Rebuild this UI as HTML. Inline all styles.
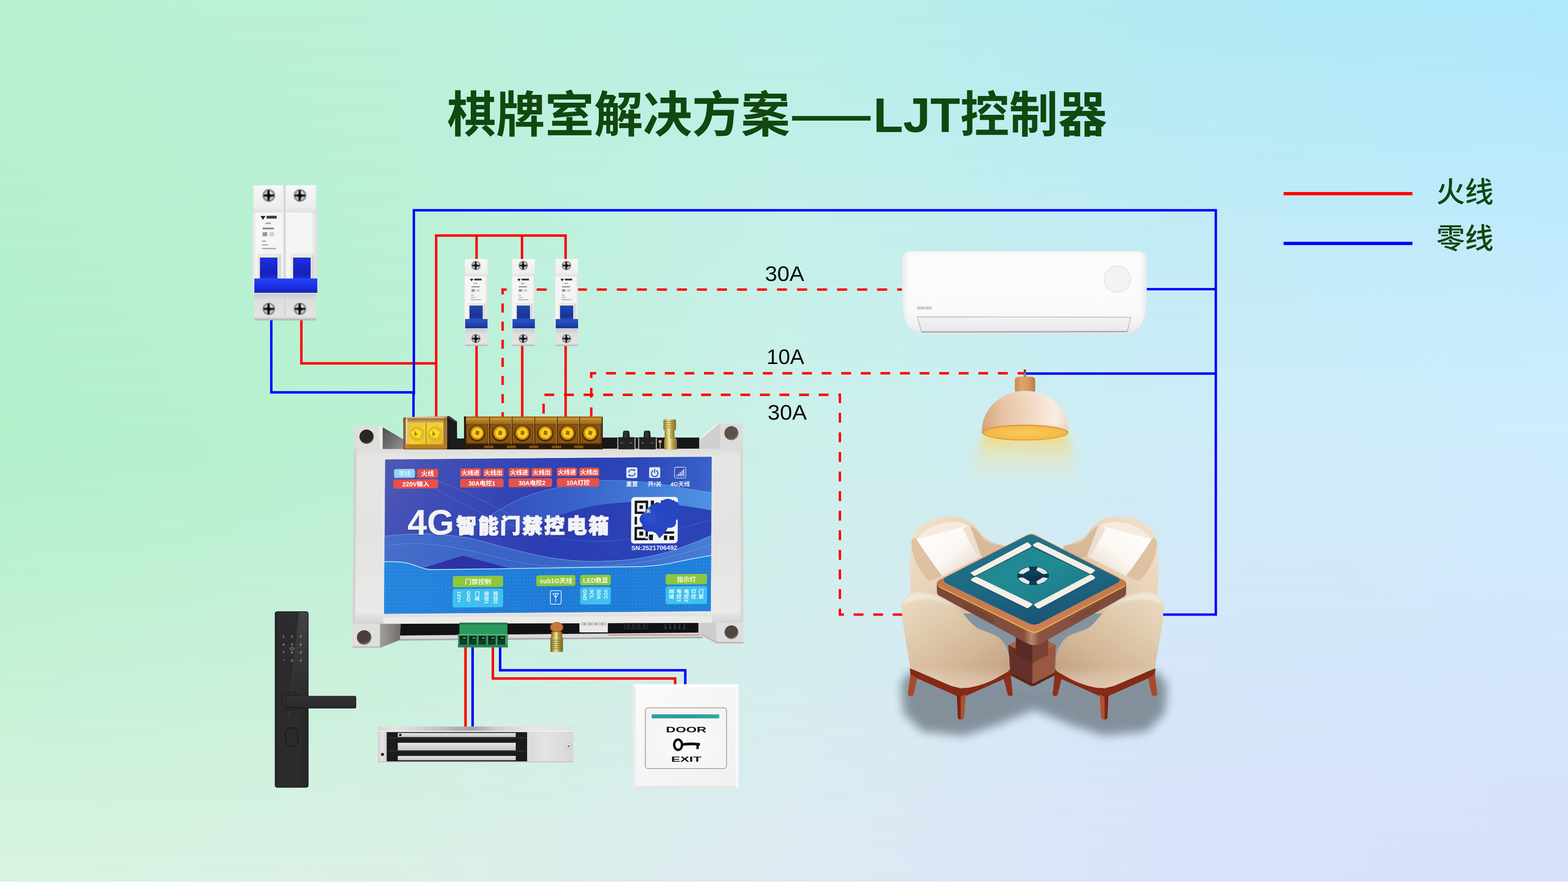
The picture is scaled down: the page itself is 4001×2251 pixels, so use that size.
<!DOCTYPE html>
<html><head><meta charset="utf-8"><title>LJT</title>
<style>
html,body{margin:0;padding:0;background:#fff}
body{width:4001px;height:2251px;overflow:hidden;position:relative;font-family:"Liberation Sans",sans-serif}

.bg{position:absolute;left:0;top:0;width:4001px;height:2251px}
.a{background:linear-gradient(to right,#b9f1d1 0%,#bcf1d9 25%,#bbf0e7 50%,#b1eaf4 75%,#aee8fb 100%)}
.b{background:linear-gradient(to right,#b1f0ca 0%,#baf0d3 25%,#cdf0ea 50%,#d0ecf7 75%,#d0edff 100%);-webkit-mask-image:linear-gradient(to bottom,transparent 0%,#000 50%);mask-image:linear-gradient(to bottom,transparent 0%,#000 50%)}
.c{background:linear-gradient(to right,#d8f3e1 0%,#dbf0e5 25%,#deeaf2 50%,#dae2fb 75%,#d7dffa 100%);-webkit-mask-image:linear-gradient(to bottom,transparent 50%,#000 100%);mask-image:linear-gradient(to bottom,transparent 50%,#000 100%)}

.wl{position:absolute;left:0;top:2250px;width:4001px;height:1px;background:#fff}
text.t{font-family:"Liberation Sans","Noto Sans CJK SC",sans-serif;font-weight:bold}
</style></head><body>

<div class="bg a"></div><div class="bg b"></div><div class="bg c"></div>

<svg width="4001" height="2251" viewBox="0 0 4001 2251" style="position:absolute;left:0;top:0"><defs><filter id="blur8" x="-20%" y="-20%" width="140%" height="140%"><feGaussianBlur stdDeviation="11"/></filter><filter id="blur3" x="-20%" y="-20%" width="140%" height="140%"><feGaussianBlur stdDeviation="3"/></filter><linearGradient id="g1" x1="0" y1="0" x2="0" y2="1"><stop offset="0" stop-color="#f7f7f7"/><stop offset="0.8" stop-color="#eeeeee"/><stop offset="1" stop-color="#e2e2e2"/></linearGradient><linearGradient id="g2" x1="0" y1="0" x2="1" y2="0"><stop offset="0" stop-color="#e3e3e3"/><stop offset="0.06" stop-color="#f6f6f6"/><stop offset="0.9" stop-color="#f4f4f4"/><stop offset="1" stop-color="#dcdcdc"/></linearGradient><linearGradient id="g3" x1="0" y1="0" x2="0" y2="1"><stop offset="0" stop-color="#c9c9c9"/><stop offset="0.25" stop-color="#dedede"/><stop offset="0.85" stop-color="#e4e4e4"/><stop offset="0.93" stop-color="#cfcfcf"/><stop offset="1" stop-color="#a9a9a9"/></linearGradient><linearGradient id="g4" x1="0" y1="0" x2="0" y2="1"><stop offset="0" stop-color="#2a44f2"/><stop offset="0.55" stop-color="#1c2fe6"/><stop offset="1" stop-color="#1322b8"/></linearGradient><linearGradient id="g5" x1="0" y1="0" x2="0" y2="1"><stop offset="0" stop-color="#1c2fe6"/><stop offset="0.75" stop-color="#1322b8"/><stop offset="1" stop-color="#1c2fe6"/></linearGradient><linearGradient id="g6" x1="0" y1="0" x2="0" y2="1"><stop offset="0" stop-color="#f7f7f7"/><stop offset="0.8" stop-color="#eeeeee"/><stop offset="1" stop-color="#e2e2e2"/></linearGradient><linearGradient id="g7" x1="0" y1="0" x2="1" y2="0"><stop offset="0" stop-color="#e3e3e3"/><stop offset="0.06" stop-color="#f6f6f6"/><stop offset="0.9" stop-color="#f4f4f4"/><stop offset="1" stop-color="#dcdcdc"/></linearGradient><linearGradient id="g8" x1="0" y1="0" x2="0" y2="1"><stop offset="0" stop-color="#c9c9c9"/><stop offset="0.25" stop-color="#dedede"/><stop offset="0.85" stop-color="#e4e4e4"/><stop offset="0.93" stop-color="#cfcfcf"/><stop offset="1" stop-color="#a9a9a9"/></linearGradient><linearGradient id="g9" x1="0" y1="0" x2="0" y2="1"><stop offset="0" stop-color="#2a55c5"/><stop offset="0.55" stop-color="#1f45b5"/><stop offset="1" stop-color="#173492"/></linearGradient><linearGradient id="g10" x1="0" y1="0" x2="0" y2="1"><stop offset="0" stop-color="#1f45b5"/><stop offset="0.75" stop-color="#173492"/><stop offset="1" stop-color="#1f45b5"/></linearGradient><linearGradient id="g11" x1="0" y1="0" x2="0" y2="1"><stop offset="0" stop-color="#f7f7f7"/><stop offset="0.8" stop-color="#eeeeee"/><stop offset="1" stop-color="#e2e2e2"/></linearGradient><linearGradient id="g12" x1="0" y1="0" x2="1" y2="0"><stop offset="0" stop-color="#e3e3e3"/><stop offset="0.06" stop-color="#f6f6f6"/><stop offset="0.9" stop-color="#f4f4f4"/><stop offset="1" stop-color="#dcdcdc"/></linearGradient><linearGradient id="g13" x1="0" y1="0" x2="0" y2="1"><stop offset="0" stop-color="#c9c9c9"/><stop offset="0.25" stop-color="#dedede"/><stop offset="0.85" stop-color="#e4e4e4"/><stop offset="0.93" stop-color="#cfcfcf"/><stop offset="1" stop-color="#a9a9a9"/></linearGradient><linearGradient id="g14" x1="0" y1="0" x2="0" y2="1"><stop offset="0" stop-color="#2a55c5"/><stop offset="0.55" stop-color="#1f45b5"/><stop offset="1" stop-color="#173492"/></linearGradient><linearGradient id="g15" x1="0" y1="0" x2="0" y2="1"><stop offset="0" stop-color="#1f45b5"/><stop offset="0.75" stop-color="#173492"/><stop offset="1" stop-color="#1f45b5"/></linearGradient><linearGradient id="g16" x1="0" y1="0" x2="0" y2="1"><stop offset="0" stop-color="#f7f7f7"/><stop offset="0.8" stop-color="#eeeeee"/><stop offset="1" stop-color="#e2e2e2"/></linearGradient><linearGradient id="g17" x1="0" y1="0" x2="1" y2="0"><stop offset="0" stop-color="#e3e3e3"/><stop offset="0.06" stop-color="#f6f6f6"/><stop offset="0.9" stop-color="#f4f4f4"/><stop offset="1" stop-color="#dcdcdc"/></linearGradient><linearGradient id="g18" x1="0" y1="0" x2="0" y2="1"><stop offset="0" stop-color="#c9c9c9"/><stop offset="0.25" stop-color="#dedede"/><stop offset="0.85" stop-color="#e4e4e4"/><stop offset="0.93" stop-color="#cfcfcf"/><stop offset="1" stop-color="#a9a9a9"/></linearGradient><linearGradient id="g19" x1="0" y1="0" x2="0" y2="1"><stop offset="0" stop-color="#2a55c5"/><stop offset="0.55" stop-color="#1f45b5"/><stop offset="1" stop-color="#173492"/></linearGradient><linearGradient id="g20" x1="0" y1="0" x2="0" y2="1"><stop offset="0" stop-color="#1f45b5"/><stop offset="0.75" stop-color="#173492"/><stop offset="1" stop-color="#1f45b5"/></linearGradient><linearGradient id="g21" x1="0" y1="0" x2="0" y2="1"><stop offset="0" stop-color="#f7f7f8"/><stop offset="0.08" stop-color="#fcfcfc"/><stop offset="0.7" stop-color="#fafafa"/><stop offset="0.9" stop-color="#f1f1f2"/><stop offset="1" stop-color="#e6e6e8"/></linearGradient><linearGradient id="g22" x1="0" y1="0" x2="1" y2="0"><stop offset="0" stop-color="#e4e6ea" stop-opacity="0.9"/><stop offset="0.035" stop-color="#f4f4f5" stop-opacity="0"/><stop offset="0.965" stop-color="#f4f4f5" stop-opacity="0"/><stop offset="1" stop-color="#e4e6ea" stop-opacity="0.9"/></linearGradient><linearGradient id="g23" x1="0" y1="0" x2="0" y2="1"><stop offset="0" stop-color="#f2f2f4"/><stop offset="0.8" stop-color="#ebebee"/><stop offset="1" stop-color="#dcdce0"/></linearGradient><linearGradient id="g24" x1="0" y1="0" x2="0" y2="1"><stop offset="0" stop-color="#ffcf52" stop-opacity="0.78"/><stop offset="0.3" stop-color="#ffd86e" stop-opacity="0.4"/><stop offset="0.8" stop-color="#ffe9a0" stop-opacity="0.06"/><stop offset="1" stop-color="#ffe9a0" stop-opacity="0"/></linearGradient><linearGradient id="g25" x1="0" y1="0" x2="1" y2="0"><stop offset="0" stop-color="#c98c54"/><stop offset="0.35" stop-color="#e0a56c"/><stop offset="0.7" stop-color="#d6965c"/><stop offset="1" stop-color="#b97c47"/></linearGradient><linearGradient id="g26" x1="0" y1="0" x2="1" y2="0"><stop offset="0" stop-color="#d5a680"/><stop offset="0.25" stop-color="#e8c4a4"/><stop offset="0.6" stop-color="#f3dcc8"/><stop offset="0.85" stop-color="#faefe6"/><stop offset="1" stop-color="#f0d9c6"/></linearGradient><linearGradient id="g27" x1="0" y1="0" x2="0" y2="1"><stop offset="0" stop-color="#fff" stop-opacity="0.15"/><stop offset="0.6" stop-color="#c98e64" stop-opacity="0.0"/><stop offset="1" stop-color="#b97a4e" stop-opacity="0.28"/></linearGradient><radialGradient id="g28" cx="0.5" cy="0.5" r="0.6"><stop offset="0" stop-color="#fbc95a"/><stop offset="0.7" stop-color="#f6bb47"/><stop offset="1" stop-color="#eaa83e"/></radialGradient><linearGradient id="g29" x1="0" y1="0" x2="1" y2="1"><stop offset="0" stop-color="#f2e3d0"/><stop offset="0.45" stop-color="#e9d3b9"/><stop offset="1" stop-color="#cfae8d"/></linearGradient><linearGradient id="g30" x1="0" y1="0" x2="1" y2="1"><stop offset="0" stop-color="#ffffff"/><stop offset="0.55" stop-color="#fbf7f2"/><stop offset="1" stop-color="#e2d3c2"/></linearGradient><linearGradient id="g31" x1="0" y1="0" x2="1" y2="0"><stop offset="0" stop-color="#7a4638"/><stop offset="0.46" stop-color="#84503f"/><stop offset="0.5" stop-color="#b98872"/><stop offset="0.54" stop-color="#8a5443"/><stop offset="1" stop-color="#7d493a"/></linearGradient><linearGradient id="g32" x1="0" y1="0" x2="0" y2="1"><stop offset="0" stop-color="#b8734d"/><stop offset="1" stop-color="#c98057"/></linearGradient><linearGradient id="g33" x1="0.3" y1="0" x2="0.6" y2="1"><stop offset="0" stop-color="#1f748a"/><stop offset="0.5" stop-color="#1d6a84"/><stop offset="1" stop-color="#1a5374"/></linearGradient><linearGradient id="g34" x1="0" y1="0" x2="1" y2="1"><stop offset="0" stop-color="#24868f"/><stop offset="0.5" stop-color="#1f8a93"/><stop offset="1" stop-color="#1f7389"/></linearGradient><linearGradient id="g35" x1="0" y1="0" x2="0" y2="1"><stop offset="0" stop-color="#0d4a60"/><stop offset="1" stop-color="#062c42"/></linearGradient><linearGradient id="g36" x1="0.1" y1="0" x2="0.9" y2="1"><stop offset="0" stop-color="#eadac3"/><stop offset="0.3" stop-color="#e0cbae"/><stop offset="0.65" stop-color="#d3b797"/><stop offset="1" stop-color="#bf9c7c"/></linearGradient><linearGradient id="g37" x1="0" y1="0" x2="0" y2="1"><stop offset="0" stop-color="#fff" stop-opacity="0.0"/><stop offset="0.78" stop-color="#fff" stop-opacity="0.0"/><stop offset="1" stop-color="#f3dfc8" stop-opacity="0.55"/></linearGradient><filter id="tblur" x="-10%" y="-20%" width="120%" height="140%"><feGaussianBlur stdDeviation="44"/></filter><filter id="tblur2" x="-20%" y="-30%" width="140%" height="160%"><feGaussianBlur stdDeviation="14"/></filter><linearGradient id="g38" x1="0" y1="0" x2="0" y2="1"><stop offset="0" stop-color="#dcdcda"/><stop offset="0.05" stop-color="#e6e6e4"/><stop offset="0.5" stop-color="#e3e3e1"/><stop offset="0.93" stop-color="#e9e9e7"/><stop offset="1" stop-color="#d2d2d0"/></linearGradient><linearGradient id="g39" x1="0" y1="0" x2="1" y2="1"><stop offset="0" stop-color="#4e4e50"/><stop offset="0.6" stop-color="#77777a"/><stop offset="1" stop-color="#9a9a9c"/></linearGradient><linearGradient id="g40" x1="0" y1="0" x2="1" y2="0"><stop offset="0" stop-color="#a29e9a"/><stop offset="0.5" stop-color="#8a8683"/><stop offset="1" stop-color="#6d6a68"/></linearGradient><radialGradient id="g41" cx="0.45" cy="0.4" r="0.6"><stop offset="0" stop-color="#2b2622"/><stop offset="0.75" stop-color="#2b2622"/><stop offset="1" stop-color="#55504a"/></radialGradient><radialGradient id="g42" cx="0.45" cy="0.4" r="0.6"><stop offset="0" stop-color="#5c5149"/><stop offset="0.75" stop-color="#5c5149"/><stop offset="1" stop-color="#8b8178"/></radialGradient><radialGradient id="g43" cx="0.45" cy="0.4" r="0.6"><stop offset="0" stop-color="#4a4039"/><stop offset="0.75" stop-color="#4a4039"/><stop offset="1" stop-color="#8c857d"/></radialGradient><radialGradient id="g44" cx="0.45" cy="0.4" r="0.6"><stop offset="0" stop-color="#50463f"/><stop offset="0.75" stop-color="#50463f"/><stop offset="1" stop-color="#8f8880"/></radialGradient><linearGradient id="g45" x1="0" y1="0" x2="0" y2="1"><stop offset="0" stop-color="#c9a56a"/><stop offset="0.1" stop-color="#a77a3c"/><stop offset="0.2" stop-color="#dcb65a"/><stop offset="0.8" stop-color="#d9aa3e"/><stop offset="0.9" stop-color="#b98632"/><stop offset="1" stop-color="#8a5a1c"/></linearGradient><linearGradient id="g46" x1="0" y1="0" x2="1" y2="1"><stop offset="0" stop-color="#e6c63c"/><stop offset="0.5" stop-color="#f4d32a"/><stop offset="1" stop-color="#e3b424"/></linearGradient><linearGradient id="g47" x1="0" y1="0" x2="0" y2="1"><stop offset="0" stop-color="#9a6418"/><stop offset="0.08" stop-color="#c08a2a"/><stop offset="0.2" stop-color="#a06c1c"/><stop offset="0.24" stop-color="#6a400c"/><stop offset="0.8" stop-color="#62390a"/><stop offset="0.86" stop-color="#352008"/><stop offset="1" stop-color="#46290a"/></linearGradient><radialGradient id="g48" cx="0.5" cy="0.5" r="0.5"><stop offset="0" stop-color="#d39612"/><stop offset="0.35" stop-color="#f8c81e"/><stop offset="0.72" stop-color="#e8aa14"/><stop offset="1" stop-color="#8a560c"/></radialGradient><linearGradient id="g49" x1="0" y1="0" x2="1" y2="0"><stop offset="0" stop-color="#1a1a1c"/><stop offset="0.4" stop-color="#3a3a3d"/><stop offset="1" stop-color="#161618"/></linearGradient><linearGradient id="g50" x1="0" y1="0" x2="1" y2="0"><stop offset="0" stop-color="#1a1a1c"/><stop offset="0.4" stop-color="#3a3a3d"/><stop offset="1" stop-color="#161618"/></linearGradient><linearGradient id="g51" x1="0" y1="0" x2="1" y2="0"><stop offset="0" stop-color="#8e7a36"/><stop offset="0.3" stop-color="#d9c878"/><stop offset="0.45" stop-color="#f1e6a6"/><stop offset="0.6" stop-color="#c2ad58"/><stop offset="1" stop-color="#85702e"/></linearGradient><linearGradient id="g52" x1="0" y1="0" x2="0" y2="1"><stop offset="0" stop-color="#2a8f56"/><stop offset="0.5" stop-color="#33a463"/><stop offset="1" stop-color="#2b9559"/></linearGradient><linearGradient id="g53" x1="0" y1="0" x2="1" y2="0"><stop offset="0" stop-color="#7d6526"/><stop offset="0.3" stop-color="#cdb766"/><stop offset="0.48" stop-color="#f3e8aa"/><stop offset="0.62" stop-color="#b9a24e"/><stop offset="1" stop-color="#7d6526"/></linearGradient><clipPath id="c54"><rect x="0" y="0" width="833.6" height="394.2"/></clipPath><linearGradient id="g55" x1="0" y1="0" x2="1" y2="0.25"><stop offset="0" stop-color="#5058b4"/><stop offset="0.25" stop-color="#3c4bb6"/><stop offset="0.6" stop-color="#2b3db2"/><stop offset="1" stop-color="#2a44b8"/></linearGradient><linearGradient id="g56" x1="0" y1="0" x2="1" y2="0"><stop offset="0" stop-color="#3d6fd2" stop-opacity="0"/><stop offset="0.55" stop-color="#3d6fd2" stop-opacity="0.12"/><stop offset="1" stop-color="#4a86de" stop-opacity="0.5"/></linearGradient><linearGradient id="g57" x1="0" y1="0" x2="1" y2="0"><stop offset="0" stop-color="#3f78d6" stop-opacity="0.0"/><stop offset="0.3" stop-color="#3f78d6" stop-opacity="0.45"/><stop offset="0.7" stop-color="#4687de" stop-opacity="0.8"/><stop offset="1" stop-color="#5198e6" stop-opacity="0.95"/></linearGradient><linearGradient id="g58" x1="0" y1="0" x2="1" y2="0"><stop offset="0" stop-color="#4672cc" stop-opacity="0.9"/><stop offset="0.35" stop-color="#3c69c9" stop-opacity="0.85"/><stop offset="0.7" stop-color="#3f72d0" stop-opacity="0.85"/><stop offset="1" stop-color="#4a84da" stop-opacity="0.9"/></linearGradient><linearGradient id="g59" x1="0" y1="0" x2="1" y2="0"><stop offset="0" stop-color="#2585de"/><stop offset="0.5" stop-color="#1e7ad5"/><stop offset="1" stop-color="#2080dc"/></linearGradient><pattern id="p60" width="9" height="9" patternUnits="userSpaceOnUse"><circle cx="4.5" cy="4.5" r="1.8" fill="#4ea4ee" opacity="0.35"/></pattern><filter id="tsh" x="-5%" y="-20%" width="110%" height="140%"><feDropShadow dx="-1.5" dy="1.5" stdDeviation="1.6" flood-color="#1a2a7a" flood-opacity="0.55"/></filter><linearGradient id="g61" x1="0" y1="0" x2="1" y2="0"><stop offset="0" stop-color="#232325"/><stop offset="0.08" stop-color="#2b2b2d"/><stop offset="0.7" stop-color="#2c2c2e"/><stop offset="1" stop-color="#252527"/></linearGradient><linearGradient id="g62" x1="0" y1="0" x2="0" y2="1"><stop offset="0" stop-color="#47474a" stop-opacity="0.9"/><stop offset="0.5" stop-color="#3a3a3d" stop-opacity="0.7"/><stop offset="1" stop-color="#2e2e30" stop-opacity="0.2"/></linearGradient><linearGradient id="g63" x1="0" y1="0" x2="0" y2="1"><stop offset="0" stop-color="#3b3b3d"/><stop offset="0.15" stop-color="#303032"/><stop offset="0.85" stop-color="#2c2c2e"/><stop offset="1" stop-color="#1f1f20"/></linearGradient><linearGradient id="g64" x1="0" y1="0" x2="1" y2="0"><stop offset="0" stop-color="#d4d4d4"/><stop offset="0.08" stop-color="#e6e6e6"/><stop offset="0.3" stop-color="#c4c4c4"/><stop offset="0.48" stop-color="#a3a3a3"/><stop offset="0.6" stop-color="#cdcdcd"/><stop offset="0.8" stop-color="#e9e9e9"/><stop offset="1" stop-color="#e2e2e2"/></linearGradient><linearGradient id="g65" x1="0" y1="0" x2="1" y2="0"><stop offset="0" stop-color="#cfcfcf"/><stop offset="0.5" stop-color="#e4e4e4"/><stop offset="1" stop-color="#d0d0d0"/></linearGradient><linearGradient id="g66" x1="0" y1="0" x2="0" y2="1"><stop offset="0" stop-color="#e9e9e9"/><stop offset="0.5" stop-color="#d5d5d5"/><stop offset="1" stop-color="#c4c4c4"/></linearGradient><linearGradient id="g67" x1="0" y1="0" x2="1" y2="0"><stop offset="0" stop-color="#dadada"/><stop offset="0.4" stop-color="#e3e3e3"/><stop offset="1" stop-color="#d7d7d7"/></linearGradient><linearGradient id="g68" x1="0" y1="0" x2="1" y2="1"><stop offset="0" stop-color="#fbfbfb"/><stop offset="0.5" stop-color="#f5f5f5"/><stop offset="1" stop-color="#f0f0f0"/></linearGradient><radialGradient id="g69" cx="0.5" cy="0.55" r="0.7"><stop offset="0" stop-color="#fbfbfb"/><stop offset="1" stop-color="#f2f2f2"/></radialGradient><linearGradient id="g70" x1="0" y1="0" x2="1" y2="0"><stop offset="0" stop-color="#2aa39d"/><stop offset="0.5" stop-color="#259a9c"/><stop offset="0.85" stop-color="#2aa6a0"/><stop offset="1" stop-color="#35b096"/></linearGradient></defs><text class="t" x="1140.8" y="337" font-size="125" fill="#12470f">棋牌室解决方案</text><rect x="2021.2" y="296" width="200.2" height="11.8" fill="#12470f"/><text class="t" x="2228.2" y="337.3" font-size="125" fill="#12470f" textLength="596.4" lengthAdjust="spacingAndGlyphs">LJT控制器</text><rect x="3275.3" y="490.1" width="328.8" height="8.3" fill="#fe0000"/><rect x="3275.3" y="617.1" width="328.8" height="8.3" fill="#0000fe"/><text class="t" x="3665" y="516.3" font-size="73" fill="#12470f" style="font-weight:500">火线</text><text class="t" x="3665" y="634" font-size="73" fill="#12470f" style="font-weight:500">零线</text><path d="M769.0 812.0 L769.0 927.4 L1116.1 927.4" fill="none" stroke="#fe0000" stroke-width="6.2" stroke-linecap="butt" stroke-linejoin="miter"/><path d="M1113.0 1068.0 L1113.0 601.2 L1443.2 601.2 L1443.2 668.0" fill="none" stroke="#fe0000" stroke-width="6.2" stroke-linecap="butt" stroke-linejoin="miter"/><path d="M1216.0 601.0 L1216.0 668.0" fill="none" stroke="#fe0000" stroke-width="6.2" stroke-linecap="butt" stroke-linejoin="miter"/><path d="M1332.0 601.0 L1332.0 668.0" fill="none" stroke="#fe0000" stroke-width="6.2" stroke-linecap="butt" stroke-linejoin="miter"/><path d="M1216.0 878.0 L1216.0 1068.0" fill="none" stroke="#fe0000" stroke-width="6.2" stroke-linecap="butt" stroke-linejoin="miter"/><path d="M1332.6 878.0 L1332.6 1068.0" fill="none" stroke="#fe0000" stroke-width="6.2" stroke-linecap="butt" stroke-linejoin="miter"/><path d="M1443.3 878.0 L1443.3 1068.0" fill="none" stroke="#fe0000" stroke-width="6.2" stroke-linecap="butt" stroke-linejoin="miter"/><path d="M692.3 812.0 L692.3 1001.3 L1056.0 1001.3" fill="none" stroke="#0000fe" stroke-width="6.2" stroke-linecap="butt" stroke-linejoin="miter"/><path d="M1055.1 1000.0 L1055.1 1070.0" fill="none" stroke="#0000fe" stroke-width="6.2" stroke-linecap="butt" stroke-linejoin="miter"/><path d="M1056.0 1007.6 L1056.0 536.7 L3102.3 536.7 L3102.3 1568.5 L2960.0 1568.5" fill="none" stroke="#0000fe" stroke-width="6.2" stroke-linecap="butt" stroke-linejoin="miter"/><path d="M2915.0 738.0 L3102.0 738.0" fill="none" stroke="#0000fe" stroke-width="6.2" stroke-linecap="butt" stroke-linejoin="miter"/><path d="M2617.5 953.3 L3102.0 953.3" fill="none" stroke="#0000fe" stroke-width="6.2" stroke-linecap="butt" stroke-linejoin="miter"/><path d="M1187.8 1640.0 L1187.8 1857.0" fill="none" stroke="#fe0000" stroke-width="6.4" stroke-linecap="butt" stroke-linejoin="miter"/><path d="M1205.9 1640.0 L1205.9 1857.0" fill="none" stroke="#0000fe" stroke-width="6.4" stroke-linecap="butt" stroke-linejoin="miter"/><path d="M1257.6 1640.0 L1257.6 1731.7 L1722.8 1731.7 L1722.8 1750.0" fill="none" stroke="#fe0000" stroke-width="6.3" stroke-linecap="butt" stroke-linejoin="miter"/><path d="M1276.2 1640.0 L1276.2 1710.7 L1748.6 1710.7 L1748.6 1750.0" fill="none" stroke="#0000fe" stroke-width="6.3" stroke-linecap="butt" stroke-linejoin="miter"/><path d="M1282.5 736.1 L1282.5 1070.0" fill="none" stroke="#fe0000" stroke-width="6.1" stroke-linecap="butt" stroke-linejoin="miter" stroke-dasharray="23.1 23.1" stroke-dashoffset="7.7"/><path d="M1279.3 739.0 L2306.0 739.0" fill="none" stroke="#fe0000" stroke-width="6.1" stroke-linecap="butt" stroke-linejoin="miter" stroke-dasharray="25.6 25.5" stroke-dashoffset="12"/><path d="M1508.7 1064.8 L1508.7 952.6 L2614.5 952.6" fill="none" stroke="#fe0000" stroke-width="6.1" stroke-linecap="butt" stroke-linejoin="miter" stroke-dasharray="25 25" stroke-dashoffset="0"/><path d="M1387.0 1030.3 L1387.0 1070.0" fill="none" stroke="#fe0000" stroke-width="6.1" stroke-linecap="butt" stroke-linejoin="miter" stroke-dasharray="25.3 25" stroke-dashoffset="0"/><path d="M1389.1 1007.6 L2143.1 1007.6 L2143.1 1568.5 L2303.0 1568.5" fill="none" stroke="#fe0000" stroke-width="6.1" stroke-linecap="butt" stroke-linejoin="miter" stroke-dasharray="25.1 24.9" stroke-dashoffset="0"/><rect x="648.9" y="749.6" width="157.1" height="67.9" fill="url(#g3)"/><rect x="647.0" y="473.0" width="159.0" height="67.5" fill="url(#g1)"/><rect x="644.3" y="539.5" width="165.3" height="210.1" fill="url(#g2)"/><rect x="644.3" y="539.5" width="165.3" height="2.1" fill="#dadada"/><rect x="656.9" y="647.0" width="60.6" height="63.7" fill="#eceadf"/><rect x="660.1" y="653.2" width="51.0" height="4.8" fill="#f3efc8"/><rect x="710.4" y="650.4" width="7.2" height="60.3" fill="#d9d9d9"/><rect x="663.3" y="657.3" width="44.7" height="54.4" fill="url(#g5)"/><circle cx="686.0" cy="498.9" r="17.8" fill="#d9d9d9"/><circle cx="686.0" cy="498.9" r="15.9" fill="#8f8f8f"/><circle cx="686.0" cy="498.9" r="12.4" fill="#b9b9b9"/><rect x="682.3" y="485.3" width="5.7" height="27.3" fill="#1e1e1e"/><rect x="672.3" y="496.1" width="27.3" height="5.7" fill="#2a2a2a"/><circle cx="686.0" cy="498.9" r="5.7" fill="#111"/><rect x="689.1" y="491.0" width="4.8" height="4.8" fill="#e6e6e6"/><circle cx="686.0" cy="788.3" r="17.8" fill="#d9d9d9"/><circle cx="686.0" cy="788.3" r="15.9" fill="#8f8f8f"/><circle cx="686.0" cy="788.3" r="12.4" fill="#b9b9b9"/><rect x="682.3" y="774.6" width="5.7" height="27.3" fill="#1e1e1e"/><rect x="672.3" y="785.5" width="27.3" height="5.7" fill="#2a2a2a"/><circle cx="686.0" cy="788.3" r="5.7" fill="#111"/><rect x="689.1" y="780.4" width="4.8" height="4.8" fill="#e6e6e6"/><rect x="721.7" y="473.0" width="8.0" height="276.6" fill="#e4e4e4"/><rect x="725.5" y="473.0" width="2.4" height="344.5" fill="#cfcfcf"/><rect x="741.6" y="647.0" width="60.6" height="63.7" fill="#eceadf"/><rect x="744.8" y="653.2" width="51.0" height="4.8" fill="#f3efc8"/><rect x="795.0" y="650.4" width="7.2" height="60.3" fill="#d9d9d9"/><rect x="748.0" y="657.3" width="44.7" height="54.4" fill="url(#g5)"/><circle cx="765.5" cy="498.9" r="17.8" fill="#d9d9d9"/><circle cx="765.5" cy="498.9" r="15.9" fill="#8f8f8f"/><circle cx="765.5" cy="498.9" r="12.4" fill="#b9b9b9"/><rect x="761.8" y="485.3" width="5.7" height="27.3" fill="#1e1e1e"/><rect x="751.8" y="496.1" width="27.3" height="5.7" fill="#2a2a2a"/><circle cx="765.5" cy="498.9" r="5.7" fill="#111"/><rect x="768.6" y="491.0" width="4.8" height="4.8" fill="#e6e6e6"/><circle cx="765.5" cy="788.3" r="17.8" fill="#d9d9d9"/><circle cx="765.5" cy="788.3" r="15.9" fill="#8f8f8f"/><circle cx="765.5" cy="788.3" r="12.4" fill="#b9b9b9"/><rect x="761.8" y="774.6" width="5.7" height="27.3" fill="#1e1e1e"/><rect x="751.8" y="785.5" width="27.3" height="5.7" fill="#2a2a2a"/><circle cx="765.5" cy="788.3" r="5.7" fill="#111"/><rect x="768.6" y="780.4" width="4.8" height="4.8" fill="#e6e6e6"/><rect x="648.9" y="710.7" width="160.7" height="36.9" fill="url(#g4)"/><rect x="644.3" y="747.6" width="165.3" height="2.1" fill="#e9e9e9"/><path d="M664.5 551.3 l12.9 0 l-6.5 10.0 z" fill="#222"/><rect x="680.2" y="550.7" width="25.8" height="7.1" fill="#3a3a3a"/><rect x="677.4" y="567.8" width="13.8" height="4.1" fill="#aaa"/><rect x="670.0" y="580.7" width="28.6" height="4.7" fill="#8c8c8c"/><rect x="670.0" y="592.5" width="12.0" height="10.6" fill="#999"/><rect x="687.5" y="592.5" width="12.0" height="10.6" fill="#cfcfcf"/><rect x="668.2" y="613.7" width="11.1" height="3.5" fill="#b5b5b5"/><rect x="668.2" y="623.1" width="15.7" height="3.5" fill="#b0b0b0"/><rect x="668.2" y="632.6" width="36.0" height="3.5" fill="#ababab"/><rect x="1186.9" y="839.3" width="56.8" height="43.7" fill="url(#g8)"/><rect x="1186.2" y="661.0" width="57.5" height="43.8" fill="url(#g6)"/><rect x="1184.2" y="703.8" width="59.8" height="135.4" fill="url(#g7)"/><rect x="1184.2" y="703.8" width="59.8" height="1.3" fill="#dadada"/><rect x="1193.4" y="773.1" width="45.1" height="41.1" fill="#eceadf"/><rect x="1195.7" y="777.1" width="38.2" height="3.1" fill="#f3efc8"/><rect x="1233.3" y="775.3" width="5.2" height="38.8" fill="#d9d9d9"/><rect x="1198.0" y="779.8" width="33.6" height="35.4" fill="url(#g10)"/><circle cx="1214.4" cy="677.7" r="12.9" fill="#d9d9d9"/><circle cx="1214.4" cy="677.7" r="11.5" fill="#8f8f8f"/><circle cx="1214.4" cy="677.7" r="9.0" fill="#b9b9b9"/><rect x="1211.7" y="667.8" width="4.1" height="19.8" fill="#1e1e1e"/><rect x="1204.5" y="675.6" width="19.8" height="4.1" fill="#2a2a2a"/><circle cx="1214.4" cy="677.7" r="4.1" fill="#111"/><rect x="1216.7" y="672.0" width="3.4" height="3.4" fill="#e6e6e6"/><circle cx="1214.4" cy="864.2" r="12.9" fill="#d9d9d9"/><circle cx="1214.4" cy="864.2" r="11.5" fill="#8f8f8f"/><circle cx="1214.4" cy="864.2" r="9.0" fill="#b9b9b9"/><rect x="1211.7" y="854.3" width="4.1" height="19.8" fill="#1e1e1e"/><rect x="1204.5" y="862.1" width="19.8" height="4.1" fill="#2a2a2a"/><circle cx="1214.4" cy="864.2" r="4.1" fill="#111"/><rect x="1216.7" y="858.4" width="3.4" height="3.4" fill="#e6e6e6"/><rect x="1186.9" y="814.2" width="57.1" height="23.8" fill="url(#g9)"/><rect x="1184.2" y="837.9" width="59.8" height="1.3" fill="#e9e9e9"/><path d="M1198.9 711.4 l9.3 0 l-4.7 6.5 z" fill="#222"/><rect x="1210.2" y="711.1" width="18.7" height="4.6" fill="#3a3a3a"/><rect x="1208.2" y="722.1" width="10.0" height="2.7" fill="#aaa"/><rect x="1202.9" y="730.4" width="20.7" height="3.0" fill="#8c8c8c"/><rect x="1202.9" y="738.0" width="8.7" height="6.8" fill="#999"/><rect x="1215.5" y="738.0" width="8.7" height="6.8" fill="#cfcfcf"/><rect x="1201.5" y="751.7" width="8.0" height="2.3" fill="#b5b5b5"/><rect x="1201.5" y="757.8" width="11.3" height="2.3" fill="#b0b0b0"/><rect x="1201.5" y="763.8" width="26.0" height="2.3" fill="#ababab"/><rect x="1307.7" y="839.3" width="56.8" height="43.7" fill="url(#g13)"/><rect x="1307.0" y="661.0" width="57.5" height="43.8" fill="url(#g11)"/><rect x="1305.0" y="703.8" width="59.8" height="135.4" fill="url(#g12)"/><rect x="1305.0" y="703.8" width="59.8" height="1.3" fill="#dadada"/><rect x="1314.2" y="773.1" width="45.1" height="41.1" fill="#eceadf"/><rect x="1316.5" y="777.1" width="38.2" height="3.1" fill="#f3efc8"/><rect x="1354.1" y="775.3" width="5.2" height="38.8" fill="#d9d9d9"/><rect x="1318.8" y="779.8" width="33.6" height="35.4" fill="url(#g15)"/><circle cx="1335.2" cy="677.7" r="12.9" fill="#d9d9d9"/><circle cx="1335.2" cy="677.7" r="11.5" fill="#8f8f8f"/><circle cx="1335.2" cy="677.7" r="9.0" fill="#b9b9b9"/><rect x="1332.5" y="667.8" width="4.1" height="19.8" fill="#1e1e1e"/><rect x="1325.3" y="675.6" width="19.8" height="4.1" fill="#2a2a2a"/><circle cx="1335.2" cy="677.7" r="4.1" fill="#111"/><rect x="1337.5" y="672.0" width="3.4" height="3.4" fill="#e6e6e6"/><circle cx="1335.2" cy="864.2" r="12.9" fill="#d9d9d9"/><circle cx="1335.2" cy="864.2" r="11.5" fill="#8f8f8f"/><circle cx="1335.2" cy="864.2" r="9.0" fill="#b9b9b9"/><rect x="1332.5" y="854.3" width="4.1" height="19.8" fill="#1e1e1e"/><rect x="1325.3" y="862.1" width="19.8" height="4.1" fill="#2a2a2a"/><circle cx="1335.2" cy="864.2" r="4.1" fill="#111"/><rect x="1337.5" y="858.4" width="3.4" height="3.4" fill="#e6e6e6"/><rect x="1307.7" y="814.2" width="57.1" height="23.8" fill="url(#g14)"/><rect x="1305.0" y="837.9" width="59.8" height="1.3" fill="#e9e9e9"/><path d="M1319.7 711.4 l9.3 0 l-4.7 6.5 z" fill="#222"/><rect x="1331.0" y="711.1" width="18.7" height="4.6" fill="#3a3a3a"/><rect x="1329.0" y="722.1" width="10.0" height="2.7" fill="#aaa"/><rect x="1323.7" y="730.4" width="20.7" height="3.0" fill="#8c8c8c"/><rect x="1323.7" y="738.0" width="8.7" height="6.8" fill="#999"/><rect x="1336.3" y="738.0" width="8.7" height="6.8" fill="#cfcfcf"/><rect x="1322.3" y="751.7" width="8.0" height="2.3" fill="#b5b5b5"/><rect x="1322.3" y="757.8" width="11.3" height="2.3" fill="#b0b0b0"/><rect x="1322.3" y="763.8" width="26.0" height="2.3" fill="#ababab"/><rect x="1418.0" y="839.3" width="56.8" height="43.7" fill="url(#g18)"/><rect x="1417.3" y="661.0" width="57.5" height="43.8" fill="url(#g16)"/><rect x="1415.3" y="703.8" width="59.8" height="135.4" fill="url(#g17)"/><rect x="1415.3" y="703.8" width="59.8" height="1.3" fill="#dadada"/><rect x="1424.5" y="773.1" width="45.1" height="41.1" fill="#eceadf"/><rect x="1426.8" y="777.1" width="38.2" height="3.1" fill="#f3efc8"/><rect x="1464.4" y="775.3" width="5.2" height="38.8" fill="#d9d9d9"/><rect x="1429.1" y="779.8" width="33.6" height="35.4" fill="url(#g20)"/><circle cx="1445.5" cy="677.7" r="12.9" fill="#d9d9d9"/><circle cx="1445.5" cy="677.7" r="11.5" fill="#8f8f8f"/><circle cx="1445.5" cy="677.7" r="9.0" fill="#b9b9b9"/><rect x="1442.8" y="667.8" width="4.1" height="19.8" fill="#1e1e1e"/><rect x="1435.6" y="675.6" width="19.8" height="4.1" fill="#2a2a2a"/><circle cx="1445.5" cy="677.7" r="4.1" fill="#111"/><rect x="1447.8" y="672.0" width="3.4" height="3.4" fill="#e6e6e6"/><circle cx="1445.5" cy="864.2" r="12.9" fill="#d9d9d9"/><circle cx="1445.5" cy="864.2" r="11.5" fill="#8f8f8f"/><circle cx="1445.5" cy="864.2" r="9.0" fill="#b9b9b9"/><rect x="1442.8" y="854.3" width="4.1" height="19.8" fill="#1e1e1e"/><rect x="1435.6" y="862.1" width="19.8" height="4.1" fill="#2a2a2a"/><circle cx="1445.5" cy="864.2" r="4.1" fill="#111"/><rect x="1447.8" y="858.4" width="3.4" height="3.4" fill="#e6e6e6"/><rect x="1418.0" y="814.2" width="57.1" height="23.8" fill="url(#g19)"/><rect x="1415.3" y="837.9" width="59.8" height="1.3" fill="#e9e9e9"/><path d="M1430.0 711.4 l9.3 0 l-4.7 6.5 z" fill="#222"/><rect x="1441.3" y="711.1" width="18.7" height="4.6" fill="#3a3a3a"/><rect x="1439.3" y="722.1" width="10.0" height="2.7" fill="#aaa"/><rect x="1434.0" y="730.4" width="20.7" height="3.0" fill="#8c8c8c"/><rect x="1434.0" y="738.0" width="8.7" height="6.8" fill="#999"/><rect x="1446.6" y="738.0" width="8.7" height="6.8" fill="#cfcfcf"/><rect x="1432.6" y="751.7" width="8.0" height="2.3" fill="#b5b5b5"/><rect x="1432.6" y="757.8" width="11.3" height="2.3" fill="#b0b0b0"/><rect x="1432.6" y="763.8" width="26.0" height="2.3" fill="#ababab"/><path d="M2324.0 641.5 H2903.6 Q2925.6 641.5 2925.6 663.5 V768.4 Q2923.6 847.6 2873.6 851.6 H2354.0 Q2304.0 847.6 2302.0 768.4 V663.5 Q2302.0 641.5 2324.0 641.5 Z" fill="url(#g21)" stroke="#e3e5e8" stroke-width="1.2"/><path d="M2324.0 641.5 H2903.6 Q2925.6 641.5 2925.6 663.5 V768.4 Q2923.6 847.6 2873.6 851.6 H2354.0 Q2304.0 847.6 2302.0 768.4 V663.5 Q2302.0 641.5 2324.0 641.5 Z" fill="url(#g22)"/><circle cx="2851" cy="712.5" r="34" fill="#f3f3f4" stroke="#dcdcde" stroke-width="1.4"/><circle cx="2851" cy="712.5" r="30.5" fill="none" stroke="#ececee" stroke-width="1"/><path d="M2341 808.6 L2885.4 809.6 L2876.7 846.3 L2351.5 847.4 Z" fill="url(#g23)" stroke="#9c9ea2" stroke-width="1.3"/><path d="M2351.5 847.6 L2876.7 846.5" stroke="#8a8c90" stroke-width="2" fill="none"/><text x="2339.5" y="789.6" style="font-family:'Liberation Sans',sans-serif;font-size:11.5px" fill="#8d8f93" textLength="38.5" lengthAdjust="spacingAndGlyphs">WAHIN</text><path d="M2512 1106 L2722 1106 L2765 1250 L2465 1250 Z" fill="url(#g24)" filter="url(#blur8)"/><rect x="2612.5" y="943.0" width="5.3" height="19.0" fill="#7a3b1c"/><rect x="2613.5" y="952.0" width="3.3" height="9.0" fill="#9aa0a6"/><path d="M2589.5 970 Q2589.5 962 2600 961.5 L2631 961.5 Q2641.5 962 2641.5 970 L2641.5 999 L2589.5 999 Z" fill="url(#g25)"/><path d="M2505.5 1105 C2503 1040 2560 997.5 2615 997.5 C2672 997.5 2729 1040 2726.5 1102 C2700 1130 2530 1132 2505.5 1105 Z" fill="url(#g26)"/><path d="M2505.5 1105 C2503 1040 2560 997.5 2615 997.5 C2672 997.5 2729 1040 2726.5 1102 C2700 1130 2530 1132 2505.5 1105 Z" fill="url(#g27)"/><ellipse cx="2616" cy="1104" rx="110" ry="20" fill="#d38f3e"/><ellipse cx="2616" cy="1104.5" rx="107.5" ry="18.2" fill="url(#g28)"/><g transform="translate(2280 1290) scale(0.27602)"><path d="M70 1640 L150 1540 L1100 1580 L1300 1640 L1480 1580 L2440 1540 L2530 1660 L2510 1920 L2340 2090 L1950 2130 L1640 2030 L1300 1890 L960 2030 L650 2130 L270 2090 L90 1920 Z" fill="#7d8a96" opacity="0.93" filter="url(#tblur)"/><path d="M560 900 L1300 1200 L2010 900 L2010 1560 L1300 1760 L560 1560 Z" fill="#8493a0"/><path d="M160 860 C148 620 148 450 165 330 C180 225 300 112 500 98 C640 92 745 160 792 240 C835 305 900 342 1030 372 L1030 1000 L160 1000 Z" fill="url(#g29)"/><path d="M165 335 C175 300 190 290 214 310 L450 650 L330 700 C230 600 170 480 165 335 Z" fill="#d9bb99" opacity="0.8"/><path d="M690 185 C740 190 800 260 840 320 C880 350 940 362 1030 380 L1030 520 L812 470 Z" fill="#d2b391" opacity="0.75"/><path d="M214 310 L690 185 C600 120 330 150 214 310 Z" fill="#f8ecdf" opacity="0.9"/><path d="M212 312 L686 187 C700 183 707 190 713 205 L812 470 L450 652 C380 560 280 420 212 312 Z" fill="url(#g30)"/><path d="M640 215 C700 330 745 420 790 480 L812 470 L713 205 C707 190 700 183 686 187 Z" fill="#eadbc9" opacity="0.8"/><g transform="translate(2600 0) scale(-1 1)"><path d="M160 860 C148 620 148 450 165 330 C180 225 300 112 500 98 C640 92 745 160 792 240 C835 305 900 342 1030 372 L1030 1000 L160 1000 Z" fill="url(#g29)"/><path d="M165 335 C175 300 190 290 214 310 L450 650 L330 700 C230 600 170 480 165 335 Z" fill="#d9bb99" opacity="0.8"/><path d="M690 185 C740 190 800 260 840 320 C880 350 940 362 1030 380 L1030 520 L812 470 Z" fill="#d2b391" opacity="0.75"/><path d="M214 310 L690 185 C600 120 330 150 214 310 Z" fill="#f8ecdf" opacity="0.9"/><path d="M212 312 L686 187 C700 183 707 190 713 205 L812 470 L450 652 C380 560 280 420 212 312 Z" fill="url(#g30)"/><path d="M640 215 C700 330 745 420 790 480 L812 470 L713 205 C707 190 700 183 686 187 Z" fill="#eadbc9" opacity="0.8"/></g><path d="M1060 1290 L1285 1400 L1285 1655 L1080 1550 Z" fill="#65302a"/><path d="M1500 1290 L1285 1400 L1285 1655 L1490 1550 Z" fill="#9a5840"/><path d="M1080 1545 L1285 1650 L1490 1545 L1490 1570 L1310 1665 Q1285 1678 1260 1665 L1080 1570 Z" fill="#5e241a"/><path d="M1060 1290 L1285 1180 L1500 1290 L1285 1400 Z" fill="#a86248"/><path d="M1130 1200 L1285 1280 L1285 1460 L1130 1380 Z" fill="#5a2a24"/><path d="M1430 1200 L1285 1280 L1285 1460 L1430 1380 Z" fill="#7b4234"/><path d="M400 722 L402 806 Q404 826 424 836 L1240 1278 Q1300 1306 1360 1278 L2128 846 Q2148 834 2150 810 L2150 715 L1300 1185 Z" fill="url(#g31)"/><path d="M650 890 L930 1040 L930 1100 L650 950 Z" fill="#6f3f32" opacity="0.55"/><path d="M1640 1040 L1910 890 L1910 950 L1640 1100 Z" fill="#744335" opacity="0.45"/><path d="M400 722 Q400 700 430 685 L1230 275 Q1272 253 1316 275 L2112 682 Q2150 700 2150 720 Q2150 740 2120 757 L1352 1167 Q1300 1194 1250 1167 L430 757 Q400 742 400 722 Z" fill="url(#g32)"/><path d="M415 742 Q420 752 440 762 L1252 1160 Q1300 1184 1350 1160 L2115 758 Q2135 748 2140 738" fill="none" stroke="#f4b436" stroke-width="9"/><path d="M465 690 Q465 672 490 660 L1225 285 Q1272 262 1318 285 L2060 662 Q2092 678 2090 692 Q2090 706 2062 720 L1350 1090 Q1300 1116 1250 1090 L492 722 Q465 708 465 690 Z" fill="url(#g33)"/><path d="M758 650 L1280 392 L1832 640 L1290 928 Z" fill="url(#g34)"/><path d="M712 622 L1228 345 Q1240 340 1250 348 L1272 370 Q1276 380 1262 388 L760 648 Q745 654 735 645 Z" fill="#0f4258" opacity="0.55" transform="translate(0 10)"/><path d="M1293 360 L1325 342 Q1337 338 1350 345 L1855 592 Q1866 600 1858 608 L1830 630 Q1820 634 1808 628 L1298 378 Q1288 370 1293 360 Z" fill="#0f4258" opacity="0.55" transform="translate(0 10)"/><path d="M720 680 L752 662 Q764 658 776 664 L1275 905 Q1285 912 1278 922 L1250 945 Q1240 952 1228 946 L724 698 Q714 690 720 680 Z" fill="#0f4258" opacity="0.55" transform="translate(0 10)"/><path d="M1305 912 L1815 642 Q1827 637 1838 645 L1860 662 Q1866 672 1855 680 L1350 950 Q1338 955 1328 948 L1308 930 Q1300 920 1305 912 Z" fill="#0f4258" opacity="0.55" transform="translate(0 10)"/><path d="M712 622 L1228 345 Q1240 340 1250 348 L1272 370 Q1276 380 1262 388 L760 648 Q745 654 735 645 Z" fill="#f4efe6"/><path d="M712 622 L1228 345 Q1240 340 1250 348 L1272 370 Q1276 380 1262 388 L760 648 Q745 654 735 645 Z" fill="none" stroke="#d9d0c2" stroke-width="3"/><path d="M1293 360 L1325 342 Q1337 338 1350 345 L1855 592 Q1866 600 1858 608 L1830 630 Q1820 634 1808 628 L1298 378 Q1288 370 1293 360 Z" fill="#f4efe6"/><path d="M1293 360 L1325 342 Q1337 338 1350 345 L1855 592 Q1866 600 1858 608 L1830 630 Q1820 634 1808 628 L1298 378 Q1288 370 1293 360 Z" fill="none" stroke="#d9d0c2" stroke-width="3"/><path d="M720 680 L752 662 Q764 658 776 664 L1275 905 Q1285 912 1278 922 L1250 945 Q1240 952 1228 946 L724 698 Q714 690 720 680 Z" fill="#f4efe6"/><path d="M720 680 L752 662 Q764 658 776 664 L1275 905 Q1285 912 1278 922 L1250 945 Q1240 952 1228 946 L724 698 Q714 690 720 680 Z" fill="none" stroke="#d9d0c2" stroke-width="3"/><path d="M1305 912 L1815 642 Q1827 637 1838 645 L1860 662 Q1866 672 1855 680 L1350 950 Q1338 955 1328 948 L1308 930 Q1300 920 1305 912 Z" fill="#f4efe6"/><path d="M1305 912 L1815 642 Q1827 637 1838 645 L1860 662 Q1866 672 1855 680 L1350 950 Q1338 955 1328 948 L1308 930 Q1300 920 1305 912 Z" fill="none" stroke="#d9d0c2" stroke-width="3"/><ellipse cx="1290" cy="650" rx="146" ry="87" fill="#0e4358"/><ellipse cx="1290" cy="650" rx="141" ry="83" fill="#e3e4e6"/><path d="M1180 650 Q1182 642 1196 634 L1270 592 Q1290 582 1310 592 L1386 636 Q1402 649 1386 662 L1310 708 Q1290 719 1270 708 L1196 666 Q1182 658 1180 650 Z" fill="url(#g35)"/><path d="M1248 566 L1332 566 L1318 604 L1262 604 Z M1248 734 L1332 734 L1318 696 L1262 696 Z M1147 628 L1147 672 L1205 664 L1205 636 Z M1433 628 L1433 672 L1375 664 L1375 636 Z" fill="#0b3c52"/><path d="M150 1505 L620 1695 L1078 1515 L1088 1575 L668 1762 L622 1772 L585 1762 L158 1572 Z" fill="#862a16"/><path d="M156 1560 L218 1598 L186 1752 Q160 1775 133 1752 Z" fill="#a9492b"/><path d="M585 1745 L622 1770 L622 1978 Q605 1985 594 1962 Z" fill="#7a2412"/><path d="M622 1770 L668 1745 L652 1962 Q640 1985 622 1978 Z" fill="#b0502f"/><path d="M1018 1602 L1082 1560 L1102 1750 Q1080 1775 1056 1752 Z" fill="#8c3019"/><path d="M76 926 C80 860 130 805 220 800 C330 795 440 835 590 945 C650 1000 700 1080 760 1125 C800 1155 900 1175 960 1211 C1020 1250 1060 1330 1070 1400 L1075 1500 Q1075 1526 1052 1540 L950 1598 C880 1636 800 1662 741 1676 Q646 1702 532 1667 L285 1562 L172 1512 Q155 1503 152 1480 L114 1258 L81 1050 Z" fill="url(#g36)"/><path d="M76 926 C80 860 130 805 220 800 C330 795 440 835 590 945 C650 1000 700 1080 760 1125 C800 1155 900 1175 960 1211 C1020 1250 1060 1330 1070 1400 L1075 1500 Q1075 1526 1052 1540 L950 1598 C880 1636 800 1662 741 1676 Q646 1702 532 1667 L285 1562 L172 1512 Q155 1503 152 1480 L114 1258 L81 1050 Z" fill="url(#g37)"/><path d="M86 930 C90 865 140 815 225 810 C330 806 440 845 585 950 C480 890 370 860 250 868 C160 876 110 900 86 930 Z" fill="#f6ecdf" opacity="0.75" filter="url(#tblur2)"/><g transform="translate(2572 0) scale(-1 1)"><path d="M150 1505 L620 1695 L1078 1515 L1088 1575 L668 1762 L622 1772 L585 1762 L158 1572 Z" fill="#862a16"/><path d="M156 1560 L218 1598 L186 1752 Q160 1775 133 1752 Z" fill="#a9492b"/><path d="M585 1745 L622 1770 L622 1978 Q605 1985 594 1962 Z" fill="#7a2412"/><path d="M622 1770 L668 1745 L652 1962 Q640 1985 622 1978 Z" fill="#b0502f"/><path d="M1018 1602 L1082 1560 L1102 1750 Q1080 1775 1056 1752 Z" fill="#8c3019"/><path d="M76 926 C80 860 130 805 220 800 C330 795 440 835 590 945 C650 1000 700 1080 760 1125 C800 1155 900 1175 960 1211 C1020 1250 1060 1330 1070 1400 L1075 1500 Q1075 1526 1052 1540 L950 1598 C880 1636 800 1662 741 1676 Q646 1702 532 1667 L285 1562 L172 1512 Q155 1503 152 1480 L114 1258 L81 1050 Z" fill="url(#g36)"/><path d="M76 926 C80 860 130 805 220 800 C330 795 440 835 590 945 C650 1000 700 1080 760 1125 C800 1155 900 1175 960 1211 C1020 1250 1060 1330 1070 1400 L1075 1500 Q1075 1526 1052 1540 L950 1598 C880 1636 800 1662 741 1676 Q646 1702 532 1667 L285 1562 L172 1512 Q155 1503 152 1480 L114 1258 L81 1050 Z" fill="url(#g37)"/><path d="M86 930 C90 865 140 815 225 810 C330 806 440 845 585 950 C480 890 370 860 250 868 C160 876 110 900 86 930 Z" fill="#f6ecdf" opacity="0.75" filter="url(#tblur2)"/></g></g><path d="M1166 1119 L1537 1119 L1537 1116.7 L1786 1116.7 L1786 1150 L1166 1150 Z" fill="#17171a"/><path d="M1018 1588 L1786 1580 L1786 1622 L1018 1630 Z" fill="#121216"/><path d="M1018 1622 L1786 1614.5 L1792 1628 L1019 1634.5 Z" fill="#d9d9d7"/><path d="M1018 1631 L1792 1625 L1792 1628.5 L1019 1635 Z" fill="#a9a9a7"/><path d="M904 1086.8 L968 1086.8 L976.5 1090 L976.5 1150 L903 1150 Z" fill="#dededc"/><path d="M967 1087 L976.5 1090 L976.5 1150 L969 1150 Z" fill="#ececea"/><path d="M976.5 1090.5 L1031.5 1122.5 L1031.5 1150 L976.5 1150 Z" fill="url(#g39)"/><path d="M1784 1118 L1830 1081 L1895.8 1080.4 L1896 1150 L1784 1150 Z" fill="#dcdcda"/><path d="M1784 1118 L1830 1081 L1838 1081 L1838 1150 L1784 1150 Z" fill="#cfcfcd"/><path d="M1784 1118 L1830 1081 L1834 1083 L1789 1120 Z" fill="#efefed"/><path d="M899.5 1585 L969.6 1585 L969.6 1653.4 L899 1653.4 Z" fill="#dededc"/><path d="M969.6 1590 L1023 1590 L1020 1633.5 L969.6 1653.4 Z" fill="url(#g40)"/><path d="M899 1649 L969.6 1649 L969.6 1653.8 L899 1653.8 Z" fill="#c4c4c2"/><path d="M1825.5 1578 L1897 1578 L1897.2 1642.5 L1828.6 1642.5 Z" fill="#dededc"/><path d="M1782 1578 L1826 1578 L1829 1642.5 L1789 1621.5 L1782 1621 Z" fill="#cdcdcb"/><path d="M1789 1621.5 L1829 1642.5 L1897.2 1642.5 L1897.2 1638 L1830 1638 L1790 1617 Z" fill="#bdbdbb"/><circle cx="935.4" cy="1114.5" r="18.2" fill="url(#g41)"/><circle cx="1866.3" cy="1105.6" r="18" fill="url(#g42)"/><circle cx="929.2" cy="1627" r="18.6" fill="url(#g43)"/><circle cx="1866.5" cy="1613.6" r="17.6" fill="url(#g44)"/><path d="M903 1146 L1896 1145 L1897 1589.5 L899.5 1592 Z" fill="url(#g38)"/><path d="M903 1146 L910 1146 L906 1592 L899.5 1592 Z" fill="#d2d2d0"/><path d="M1889 1145 L1896 1145 L1897 1589.5 L1890 1589.5 Z" fill="#d6d6d4"/><path d="M978 1575 L1816 1572.5 L1816 1589.5 L978 1592 Z" fill="#ebebe9"/><path d="M1141 1063 L1166 1077 L1166.5 1147 L1141 1147 Z" fill="#1b1a1c"/><path d="M1141 1061.5 L1146 1061.5 L1166.5 1076 L1166.5 1080 L1141 1066 Z" fill="#3a3634"/><rect x="1166.0" y="1119.0" width="19.0" height="28.0" fill="#1c1b1d"/><path d="M1028.5 1068 L1033 1064.5 L1141 1062 L1141 1147 L1030 1147 Z" fill="url(#g45)"/><rect x="1029.0" y="1066.0" width="6.0" height="80.0" fill="#6b4a34" opacity="0.8"/><rect x="1035.0" y="1068.0" width="5.0" height="76.0" fill="#e9dccb" opacity="0.7"/><rect x="1041.5" y="1079.0" width="90.0" height="55.0" fill="url(#g46)" rx="3"/><rect x="1086.0" y="1079.0" width="2.2" height="55.0" fill="#b08918"/><circle cx="1064" cy="1107" r="19" fill="#d9b43a" opacity="0.8"/><path d="M1062 1094 l14 8 l-6 16 l-15 -3 l-6 -12 z" fill="#ffe11a"/><path d="M1058 1099 l8 10 l-9 4 z" fill="#b7860f"/><circle cx="1110" cy="1107" r="19" fill="#d9b43a" opacity="0.8"/><path d="M1108 1094 l14 8 l-6 16 l-15 -3 l-6 -12 z" fill="#ffe11a"/><path d="M1104 1099 l8 10 l-9 4 z" fill="#b7860f"/><rect x="1131.5" y="1066.0" width="9.0" height="80.0" fill="#8a5f30" opacity="0.7"/><rect x="1032.0" y="1134.0" width="108.0" height="11.0" fill="#b98020" opacity="0.9"/><rect x="1036.0" y="1064.0" width="100.0" height="2.5" fill="#f1e3cf" opacity="0.6"/><rect x="1531.0" y="1064.0" width="7.0" height="83.0" fill="#161412"/><rect x="1184.0" y="1062.8" width="351.8" height="84.0" fill="url(#g47)"/><rect x="1184.0" y="1062.8" width="5.0" height="84.0" fill="#2a1808"/><rect x="1190.0" y="1068.0" width="342.0" height="2.2" fill="#d8a54a" opacity="0.7"/><rect x="1190.0" y="1079.5" width="342.0" height="1.6" fill="#c99436" opacity="0.55"/><rect x="1191.0" y="1083.0" width="53.0" height="48.0" fill="#8a5612" rx="3" opacity="0.9"/><circle cx="1217.5" cy="1106" r="20.5" fill="#3a2006"/><circle cx="1217.5" cy="1105" r="18.5" fill="url(#g48)"/><path d="M1216.5 1092 l12 5 l3 12 l-10 9 l-13 -4 l-4 -12 z" fill="#ffd21e" opacity="0.9"/><path d="M1214.5 1098 l9 3 l-2 10 l-9 -2 z" fill="#a06c0c"/><rect x="1249.7" y="1083.0" width="53.0" height="48.0" fill="#8a5612" rx="3" opacity="0.9"/><circle cx="1276.2" cy="1106" r="20.5" fill="#3a2006"/><circle cx="1276.2" cy="1105" r="18.5" fill="url(#g48)"/><path d="M1275.2 1092 l12 5 l3 12 l-10 9 l-13 -4 l-4 -12 z" fill="#ffd21e" opacity="0.9"/><path d="M1273.2 1098 l9 3 l-2 10 l-9 -2 z" fill="#a06c0c"/><rect x="1245.5" y="1064.0" width="2.6" height="82.0" fill="#c08a34" opacity="0.8"/><rect x="1248.1" y="1064.0" width="2.0" height="82.0" fill="#2a1606" opacity="0.7"/><rect x="1306.3" y="1083.0" width="53.0" height="48.0" fill="#8a5612" rx="3" opacity="0.9"/><circle cx="1332.8" cy="1106" r="20.5" fill="#3a2006"/><circle cx="1332.8" cy="1105" r="18.5" fill="url(#g48)"/><path d="M1331.8 1092 l12 5 l3 12 l-10 9 l-13 -4 l-4 -12 z" fill="#ffd21e" opacity="0.9"/><path d="M1329.8 1098 l9 3 l-2 10 l-9 -2 z" fill="#a06c0c"/><rect x="1303.2" y="1064.0" width="2.6" height="82.0" fill="#c08a34" opacity="0.8"/><rect x="1305.8" y="1064.0" width="2.0" height="82.0" fill="#2a1606" opacity="0.7"/><rect x="1365.0" y="1083.0" width="53.0" height="48.0" fill="#8a5612" rx="3" opacity="0.9"/><circle cx="1391.5" cy="1106" r="20.5" fill="#3a2006"/><circle cx="1391.5" cy="1105" r="18.5" fill="url(#g48)"/><path d="M1390.5 1092 l12 5 l3 12 l-10 9 l-13 -4 l-4 -12 z" fill="#ffd21e" opacity="0.9"/><path d="M1388.5 1098 l9 3 l-2 10 l-9 -2 z" fill="#a06c0c"/><rect x="1360.9" y="1064.0" width="2.6" height="82.0" fill="#c08a34" opacity="0.8"/><rect x="1363.5" y="1064.0" width="2.0" height="82.0" fill="#2a1606" opacity="0.7"/><rect x="1421.6" y="1083.0" width="53.0" height="48.0" fill="#8a5612" rx="3" opacity="0.9"/><circle cx="1448.1" cy="1106" r="20.5" fill="#3a2006"/><circle cx="1448.1" cy="1105" r="18.5" fill="url(#g48)"/><path d="M1447.1 1092 l12 5 l3 12 l-10 9 l-13 -4 l-4 -12 z" fill="#ffd21e" opacity="0.9"/><path d="M1445.1 1098 l9 3 l-2 10 l-9 -2 z" fill="#a06c0c"/><rect x="1418.5" y="1064.0" width="2.6" height="82.0" fill="#c08a34" opacity="0.8"/><rect x="1421.1" y="1064.0" width="2.0" height="82.0" fill="#2a1606" opacity="0.7"/><rect x="1479.3" y="1083.0" width="53.0" height="48.0" fill="#8a5612" rx="3" opacity="0.9"/><circle cx="1505.8" cy="1106" r="20.5" fill="#3a2006"/><circle cx="1505.8" cy="1105" r="18.5" fill="url(#g48)"/><path d="M1504.8 1092 l12 5 l3 12 l-10 9 l-13 -4 l-4 -12 z" fill="#ffd21e" opacity="0.9"/><path d="M1502.8 1098 l9 3 l-2 10 l-9 -2 z" fill="#a06c0c"/><rect x="1475.6" y="1064.0" width="2.6" height="82.0" fill="#c08a34" opacity="0.8"/><rect x="1478.2" y="1064.0" width="2.0" height="82.0" fill="#2a1606" opacity="0.7"/><rect x="1190.0" y="1134.0" width="342.0" height="12.0" fill="#2d1a08"/><rect x="1235.0" y="1137.0" width="24.0" height="7.0" fill="#7b4e14" rx="2"/><rect x="1293.0" y="1137.0" width="24.0" height="7.0" fill="#7b4e14" rx="2"/><rect x="1350.0" y="1137.0" width="24.0" height="7.0" fill="#7b4e14" rx="2"/><rect x="1408.0" y="1137.0" width="24.0" height="7.0" fill="#7b4e14" rx="2"/><rect x="1465.0" y="1137.0" width="24.0" height="7.0" fill="#7b4e14" rx="2"/><rect x="1577.6" y="1115.7" width="41.4" height="31.0" fill="#232325" rx="1.5"/><rect x="1575.1" y="1118.0" width="2.5" height="28.0" fill="#b9b9bb"/><rect x="1619.0" y="1118.0" width="2.5" height="28.0" fill="#b9b9bb"/><path d="M1588.7 1117 L1589.7 1103.5 Q1590.2 1099 1593.7 1099 L1602.0 1099 Q1605.5 1099 1606.0 1103.5 L1607.0 1117 Z" fill="url(#g49)"/><rect x="1583.6" y="1129.5" width="6.0" height="1.6" fill="#8d8d90"/><rect x="1607.0" y="1129.5" width="6.0" height="1.6" fill="#8d8d90"/><rect x="1631.0" y="1115.7" width="42.5" height="31.0" fill="#232325" rx="1.5"/><rect x="1628.5" y="1118.0" width="2.5" height="28.0" fill="#b9b9bb"/><rect x="1673.5" y="1118.0" width="2.5" height="28.0" fill="#b9b9bb"/><path d="M1642.0 1117 L1643.0 1103.5 Q1643.5 1099 1647.0 1099 L1655.4 1099 Q1658.9 1099 1659.4 1103.5 L1660.4 1117 Z" fill="url(#g50)"/><rect x="1637.0" y="1129.5" width="6.0" height="1.6" fill="#8d8d90"/><rect x="1661.5" y="1129.5" width="6.0" height="1.6" fill="#8d8d90"/><rect x="1692.7" y="1070.5" width="32.3" height="27.0" fill="url(#g51)" rx="1.5"/><rect x="1692.7" y="1075.0" width="32.3" height="1.6" fill="#7d6a2c" opacity="0.7"/><rect x="1692.7" y="1080.5" width="32.3" height="1.6" fill="#7d6a2c" opacity="0.7"/><rect x="1692.7" y="1086.0" width="32.3" height="1.6" fill="#7d6a2c" opacity="0.7"/><rect x="1692.7" y="1091.5" width="32.3" height="1.6" fill="#7d6a2c" opacity="0.7"/><rect x="1696.0" y="1097.0" width="25.0" height="25.0" fill="url(#g51)"/><path d="M1694.5 1121 L1724 1118 Q1727.5 1121 1727.5 1127 L1727.5 1147 L1694.5 1147 Z" fill="url(#g51)"/><circle cx="1684.5" cy="1127" r="4" fill="#c9b96a"/><rect x="1683.0" y="1127.0" width="3.0" height="20.0" fill="#9e8c44"/><rect x="1172.3" y="1589.0" width="122.5" height="31.0" fill="#2c9a5c"/><rect x="1172.3" y="1589.0" width="122.5" height="5.0" fill="#237d4a"/><rect x="1168.6" y="1618.6" width="127.2" height="33.6" fill="url(#g52)"/><rect x="1168.6" y="1618.6" width="127.2" height="2.2" fill="#5cc98a"/><rect x="1168.6" y="1646.5" width="127.2" height="5.7" fill="#238552"/><rect x="1172.5" y="1622.5" width="19.6" height="23.0" fill="#0f3d26"/><rect x="1174.5" y="1624.0" width="15.6" height="9.0" fill="#0a2a1a"/><rect x="1181.5" y="1627.5" width="7.0" height="2.0" fill="#b9c4bd"/><rect x="1196.7" y="1622.5" width="19.6" height="23.0" fill="#0f3d26"/><rect x="1198.7" y="1624.0" width="15.6" height="9.0" fill="#0a2a1a"/><rect x="1205.7" y="1627.5" width="7.0" height="2.0" fill="#b9c4bd"/><rect x="1220.9" y="1622.5" width="19.6" height="23.0" fill="#0f3d26"/><rect x="1222.9" y="1624.0" width="15.6" height="9.0" fill="#0a2a1a"/><rect x="1229.9" y="1627.5" width="7.0" height="2.0" fill="#b9c4bd"/><rect x="1245.1" y="1622.5" width="19.6" height="23.0" fill="#0f3d26"/><rect x="1247.1" y="1624.0" width="15.6" height="9.0" fill="#0a2a1a"/><rect x="1254.1" y="1627.5" width="7.0" height="2.0" fill="#b9c4bd"/><rect x="1269.3" y="1622.5" width="19.6" height="23.0" fill="#0f3d26"/><rect x="1271.3" y="1624.0" width="15.6" height="9.0" fill="#0a2a1a"/><rect x="1278.3" y="1627.5" width="7.0" height="2.0" fill="#b9c4bd"/><ellipse cx="1420.5" cy="1601" rx="17" ry="13.5" fill="#a9652c"/><ellipse cx="1420.5" cy="1600" rx="14" ry="11" fill="#c47a36"/><rect x="1406.5" y="1613.0" width="28.0" height="14.0" fill="url(#g53)"/><rect x="1404.5" y="1626.0" width="32.0" height="38.0" fill="url(#g53)" rx="1.5"/><rect x="1404.5" y="1633.0" width="32.0" height="1.7" fill="#6e5a20" opacity="0.7"/><rect x="1404.5" y="1638.5" width="32.0" height="1.7" fill="#6e5a20" opacity="0.7"/><rect x="1404.5" y="1644.0" width="32.0" height="1.7" fill="#6e5a20" opacity="0.7"/><rect x="1404.5" y="1649.5" width="32.0" height="1.7" fill="#6e5a20" opacity="0.7"/><rect x="1404.5" y="1655.0" width="32.0" height="1.7" fill="#6e5a20" opacity="0.7"/><rect x="1478.5" y="1585.5" width="72.5" height="28.5" fill="#e9e9e7" rx="1.5"/><rect x="1481.5" y="1588.0" width="66.5" height="9.0" fill="#cfcfcd"/><rect x="1490.0" y="1590.0" width="3.0" height="5.0" fill="#8e8e8c"/><rect x="1505.0" y="1590.0" width="3.0" height="5.0" fill="#8e8e8c"/><rect x="1520.0" y="1590.0" width="3.0" height="5.0" fill="#8e8e8c"/><rect x="1535.0" y="1590.0" width="3.0" height="5.0" fill="#8e8e8c"/><rect x="1594.0" y="1590.5" width="58.0" height="14.0" fill="none" stroke="#3c3c40" stroke-width="1.3"/><circle cx="1603.0" cy="1597.5" r="3.3" fill="none" stroke="#44444a" stroke-width="1.2"/><circle cx="1616.5" cy="1597.5" r="3.3" fill="none" stroke="#44444a" stroke-width="1.2"/><circle cx="1630.0" cy="1597.5" r="3.3" fill="none" stroke="#44444a" stroke-width="1.2"/><circle cx="1643.5" cy="1597.5" r="3.3" fill="none" stroke="#44444a" stroke-width="1.2"/><rect x="1696.0" y="1592.0" width="4.0" height="11.0" fill="#2e2e33"/><circle cx="1698.0" cy="1603" r="2.6" fill="#3a3a40"/><rect x="1708.0" y="1592.0" width="4.0" height="11.0" fill="#2e2e33"/><circle cx="1710.0" cy="1603" r="2.6" fill="#3a3a40"/><rect x="1720.0" y="1592.0" width="4.0" height="11.0" fill="#2e2e33"/><circle cx="1722.0" cy="1603" r="2.6" fill="#3a3a40"/><rect x="1732.0" y="1592.0" width="4.0" height="11.0" fill="#2e2e33"/><circle cx="1734.0" cy="1603" r="2.6" fill="#3a3a40"/><rect x="1744.0" y="1592.0" width="4.0" height="11.0" fill="#2e2e33"/><circle cx="1746.0" cy="1603" r="2.6" fill="#3a3a40"/><rect x="1552.0" y="1619.5" width="232.0" height="2.2" fill="#a33" opacity="0.55"/><g transform="matrix(1 -0.00822 -0.00638 1 982.55 1172.4)"><g clip-path="url(#c54)"><rect x="0.0" y="0.0" width="833.6" height="394.2" fill="url(#g55)"/><path d="M380 0 L834 0 L834 95 C760 78 660 60 558 58 C470 60 420 40 380 0 Z" fill="url(#g56)"/><path d="M200 190 C240 165 300 122 353 100.6 C400 82 440 75 456 73 C500 64 530 58 558 58 C600 58 630 60 661 63 C700 68 730 72 763 80 L838 92 L838 138 C800 130 760 124 729 121 C690 116 660 113 626 114 C590 116 560 118 524 124.5 C490 132 455 143 421 155 C380 170 350 178 319 182.6 C280 190 240 192 200 190 Z" fill="url(#g57)"/><path d="M200 190 C240 165 300 122 353 100.6 C400 82 440 75 456 73 C500 64 530 58 558 58 C600 58 630 60 661 63 C700 68 730 72 763 80 L838 92" fill="none" stroke="#8cc6f6" stroke-width="1.2" opacity="0.5"/><path d="M120 70 C200 120 300 170 420 200 C520 224 640 214 740 186 L838 160" fill="none" stroke="#7fb4ee" stroke-width="1.1" opacity="0.35"/><path d="M60 30 C160 60 260 110 330 150" fill="none" stroke="#9fc8f4" stroke-width="1.1" opacity="0.35"/><path d="M-2 196 C40 192 80 190 114 191 C150 193 185 197 216.6 203 C250 211 285 221 319 230.4 C355 240 390 248 421.5 254.3 C455 260 490 264 524 264.5 C560 265 595 264 626.5 261 C660 257 695 250 729 240.6 C770 228 805 213 838 199.6 L838 300 L-2 300 Z" fill="url(#g58)"/><path d="M-2 196 C40 192 80 190 114 191 C150 193 185 197 216.6 203 C250 211 285 221 319 230.4 C355 240 390 248 421.5 254.3 C455 260 490 264 524 264.5 C560 265 595 264 626.5 261 C660 257 695 250 729 240.6 C770 228 805 213 838 199.6" fill="none" stroke="#a6d4f8" stroke-width="1.3" opacity="0.55"/><path d="M-2 222 C80 205 180 222 300 256 C400 282 520 284 640 270 C720 260 790 240 838 222" fill="none" stroke="#9cccf6" stroke-width="1.1" opacity="0.4"/><path d="M90 280.5 L199.5 247.5 C240 258 280 270 319 280.5 Z" fill="#2b2ea3" opacity="0.92"/><path d="M-2 261 C15 261 30 261.5 45.8 262.8 C60 265 70 268 79.9 272.1 C90 276 98 279 107.3 280.9 C115 282.4 122 282.6 131.2 282.6 L660.7 278.9 C690 277.5 720 274 746 268 C780 261 810 256 838.3 250.9 L838.3 396.2 L-2 396.2 Z" fill="url(#g59)"/><path d="M-2 261 C15 261 30 261.5 45.8 262.8 C60 265 70 268 79.9 272.1 C90 276 98 279 107.3 280.9 C115 282.4 122 282.6 131.2 282.6 L660.7 278.9 C690 277.5 720 274 746 268 C780 261 810 256 838.3 250.9" fill="none" stroke="#b4e2fc" stroke-width="2.2"/><path d="M-2 261 C15 261 30 261.5 45.8 262.8 C60 265 70 268 79.9 272.1 C90 276 98 279 107.3 280.9 C115 282.4 122 282.6 131.2 282.6 L660.7 278.9 C690 277.5 720 274 746 268 C780 261 810 256 838.3 250.9 L838.3 396.2 L-2 396.2 Z" fill="url(#p60)"/></g><rect x="23.1" y="24.8" width="53.5" height="22.7" rx="4.5" fill="#8fd4f3"/><text class="t" x="34.68" y="42.09" font-size="15.5" fill="#d4eefa">零线</text><rect x="81.6" y="25.3" width="54.0" height="22.7" rx="4.5" fill="#e5514b"/><text class="t" x="92.39" y="42.86" font-size="16.3" fill="#fff">火线</text><rect x="21.2" y="51.8" width="114.6" height="23.0" rx="4.5" fill="#e5514b"/><text class="t" x="44.40" y="69.40" font-size="15.7" fill="#fff" textLength="68.9" lengthAdjust="spacingAndGlyphs">220V输入</text><rect x="191.6" y="24.6" width="53.0" height="22.0" rx="4.5" fill="#e5514b"/><text class="t" x="195.23" y="41.50" font-size="15.3" fill="#fff">火线进</text><rect x="250.1" y="25.1" width="52.5" height="22.0" rx="4.5" fill="#e5514b"/><text class="t" x="253.48" y="41.98" font-size="15.3" fill="#fff">火线出</text><rect x="191.8" y="51.2" width="111.0" height="22.4" rx="4.5" fill="#e5514b"/><text class="t" x="212.95" y="68.65" font-size="15.6" fill="#fff" textLength="68.8" lengthAdjust="spacingAndGlyphs">30A电控1</text><rect x="315.6" y="24.8" width="52.8" height="22.0" rx="4.5" fill="#e5514b"/><text class="t" x="319.13" y="41.72" font-size="15.3" fill="#fff">火线进</text><rect x="373.6" y="25.3" width="52.8" height="22.0" rx="4.5" fill="#e5514b"/><text class="t" x="377.13" y="42.20" font-size="15.3" fill="#fff">火线出</text><rect x="315.8" y="51.4" width="110.8" height="22.4" rx="4.5" fill="#e5514b"/><text class="t" x="340.85" y="68.90" font-size="15.6" fill="#fff" textLength="68.8" lengthAdjust="spacingAndGlyphs">30A电控2</text><rect x="438.4" y="25.0" width="51.5" height="22.0" rx="4.5" fill="#e5514b"/><text class="t" x="441.28" y="41.92" font-size="15.3" fill="#fff">火线进</text><rect x="495.3" y="25.5" width="51.5" height="22.0" rx="4.5" fill="#e5514b"/><text class="t" x="498.19" y="42.39" font-size="15.3" fill="#fff">火线出</text><rect x="438.6" y="51.6" width="108.4" height="22.4" rx="4.5" fill="#e5514b"/><text class="t" x="463.05" y="69.07" font-size="15.6" fill="#fff" textLength="59.6" lengthAdjust="spacingAndGlyphs">10A灯控</text><rect x="615.8" y="25.5" width="28.3" height="27.5" rx="4" fill="#dbe9f6"/><path d="M622.0 38.8 a8 8 0 0 1 13.5 -5.2" fill="none" stroke="#2a4bb5" stroke-width="2.4"/><path d="M638.0 39.8 a8 8 0 0 1 -13.5 5.2" fill="none" stroke="#2a4bb5" stroke-width="2.4"/><path d="M633.2 34.3 l5.5 0.5 l-1.5 -5.5 z" fill="#2a4bb5"/><path d="M626.8 44.3 l-5.5 -0.5 l1.5 5.5 z" fill="#2a4bb5"/><rect x="674.0" y="25.7" width="28.3" height="27.5" rx="4" fill="#dbe9f6"/><path d="M683.5 34.7 a8.2 8.2 0 1 0 9.4 0" fill="none" stroke="#2a4bb5" stroke-width="2.5" stroke-linecap="round"/><path d="M688.2 31.2 v8" stroke="#2a4bb5" stroke-width="2.5" stroke-linecap="round"/><rect x="739.0" y="26.1" width="28.8" height="27.8" rx="4" fill="#3450b8" stroke="#dbe9f6" stroke-width="1.6"/><rect x="743.5" y="45.6" width="2.6" height="4.0" rx="1" fill="#dbe9f6"/><rect x="747.9" y="42.1" width="2.6" height="7.5" rx="1" fill="#dbe9f6"/><rect x="752.3" y="38.6" width="2.6" height="11.0" rx="1" fill="#dbe9f6"/><rect x="756.7" y="34.6" width="2.6" height="15.0" rx="1" fill="#dbe9f6"/><rect x="761.1" y="30.6" width="2.6" height="19.0" rx="1" fill="#dbe9f6"/><text class="t" x="615.38" y="73.48" font-size="15" fill="#eaf1fb">重置</text><text class="t" x="670.48" y="73.96" font-size="15" fill="#eaf1fb" textLength="35.8" lengthAdjust="spacingAndGlyphs">开/关</text><text class="t" x="728.39" y="74.49" font-size="15" fill="#eaf1fb" textLength="49.6" lengthAdjust="spacingAndGlyphs">4G天线</text><g filter="url(#tsh)" fill="#f3f3f5" stroke="#f3f3f5" stroke-width="0"><text class="t" x="58.3" y="193.2" font-size="90" textLength="119" lengthAdjust="spacingAndGlyphs">4G</text><text class="t" x="182.4 238.7 295 351.3 407.6 463.9 520.2" y="190.2 190.6 191.1 191.6 192 192.5 193" font-size="52" stroke-width="2" style="font-weight:900">智能门禁控电箱</text></g><rect x="628.9" y="101.7" width="119" height="118.4" rx="8" fill="#f1f4f8"/><path d="M637.9 110.7 h34 v34 h-34 z M643.9 116.7 v22 h22 v-22 z M704.9 110.7 h34 v34 h-34 z M710.9 116.7 v22 h22 v-22 z M637.9 177.7 h34 v34 h-34 z M643.9 183.7 v22 h22 v-22 z M716.9 122.7 h10.0 v10.0 h-10.0 z M649.9 122.7 h9.0 v9.0 h-9.0 z M678.9 110.7 h8.0 v14.0 h-8.0 z M690.9 115.7 h8.0 v8.0 h-8.0 z M637.9 151.7 h6.0 v20.0 h-6.0 z M726.9 151.7 h12.0 v5.0 h-12.0 z M729.9 161.7 h9.0 v16.0 h-9.0 z M722.9 171.7 h8.0 v8.0 h-8.0 z M712.9 189.7 h26.0 v6.0 h-26.0 z M712.9 199.7 h8.0 v12.0 h-8.0 z M726.9 201.7 h12.0 v10.0 h-12.0 z M674.9 197.7 h10.0 v14.0 h-10.0 z M664.9 201.7 h8.0 v6.0 h-8.0 z M649.9 189.7 h10.0 v10.0 h-10.0 z" fill="#15151a" fill-rule="evenodd"/><path d="M668.9 135.7 c8 -14 22 -22 34 -18 c6 -12 26 -16 34 -4 c12 -2 18 10 12 20 c10 8 6 24 -6 28 c4 12 -8 22 -20 18 c-4 10 -14 20 -22 28 c-4 -10 -10 -18 -22 -18 c-14 2 -24 -6 -22 -20 c-12 -8 -6 -26 8 -26 c4 -4 10 -4 14 -2 z" fill="#2846c2"/><path d="M656.9 143.7 l30 -10 l10 30 l-26 8 z" fill="#2d4ec8"/><text class="t" x="662.01" y="141.93" font-size="12" fill="#e8eefc" textLength="16.6" lengthAdjust="spacingAndGlyphs">/关</text><text class="t" x="629.72" y="236.80" font-size="15.4" fill="#eef3fc" textLength="117" lengthAdjust="spacingAndGlyphs">SN:2521706492</text><rect x="174.9" y="299.3" width="128.5" height="28.7" rx="5" fill="#8dc63f"/><text class="t" x="205.66" y="320.41" font-size="16.8" fill="#f2f8e6">门禁控制</text><rect x="174.6" y="332.0" width="129.0" height="47.6" rx="5" fill="#3fc1ee"/><text class="t" transform="translate(186.60 337.67) rotate(90)" font-size="12.5" fill="#e9f8ff" textLength="29.9" lengthAdjust="spacingAndGlyphs">12V+</text><text class="t" transform="translate(210.61 337.87) rotate(90)" font-size="12.5" fill="#e9f8ff" textLength="27.3" lengthAdjust="spacingAndGlyphs">GND</text><text class="t" x="230.86 230.86" y="349.30 361.80" font-size="12.5" fill="#e9f8ff">门磁</text><text class="t" x="254.86 254.86" y="349.50 362.00" font-size="12.5" fill="#e9f8ff">按钮</text><text class="t" transform="translate(256.61 363.75) rotate(90)" font-size="12.5" fill="#e9f8ff">1</text><text class="t" x="277.86 277.86" y="349.69 362.19" font-size="12.5" fill="#e9f8ff">按钮</text><text class="t" transform="translate(279.61 363.94) rotate(90)" font-size="12.5" fill="#e9f8ff">2</text><rect x="387.9" y="299.1" width="99.9" height="27.7" rx="5" fill="#8dc63f"/><text class="t" x="396.52" y="319.37" font-size="16.3" fill="#f2f8e6" textLength="82.9" lengthAdjust="spacingAndGlyphs">sub1G天线</text><rect x="424.0" y="338.7" width="27.6" height="34.4" rx="3.5" fill="none" stroke="#eaf4ff" stroke-width="1.8"/><path d="M437.8 345.7 v22 M430.3 345.7 l7.5 11 M445.3 345.7 l-7.5 11 M430.3 345.7 h15" fill="none" stroke="#eaf4ff" stroke-width="1.7"/><rect x="499.9" y="299.0" width="78.1" height="26.7" rx="5" fill="#8dc63f"/><text class="t" x="506.91" y="318.93" font-size="16.4" fill="#f2f8e6" textLength="64.1" lengthAdjust="spacingAndGlyphs">LED数显</text><rect x="500.1" y="330.2" width="78.1" height="44.5" rx="5" fill="#3fc1ee"/><text class="t" transform="translate(507.41 335.81) rotate(90)" font-size="13" fill="#e9f8ff" textLength="28.3" lengthAdjust="spacingAndGlyphs">GND</text><text class="t" transform="translate(524.91 335.95) rotate(90)" font-size="13" fill="#e9f8ff" textLength="24.2" lengthAdjust="spacingAndGlyphs">SCL</text><text class="t" transform="translate(542.91 336.10) rotate(90)" font-size="13" fill="#e9f8ff" textLength="25.7" lengthAdjust="spacingAndGlyphs">SDA</text><text class="t" transform="translate(560.92 336.25) rotate(90)" font-size="13" fill="#e9f8ff" textLength="25.1" lengthAdjust="spacingAndGlyphs">VCC</text><rect x="718.0" y="298.9" width="105.7" height="26.6" rx="5" fill="#8dc63f"/><text class="t" x="746.65" y="318.77" font-size="16.2" fill="#f2f8e6">指示灯</text><rect x="718.2" y="330.2" width="105.7" height="45.6" rx="5" fill="#3fc1ee"/><text class="t" x="726.60 726.60" y="347.81 361.01" font-size="13" fill="#e9f8ff">网络</text><text class="t" x="745.60 745.60" y="347.96 361.16" font-size="13" fill="#e9f8ff">电控</text><text class="t" transform="translate(747.42 363.18) rotate(90)" font-size="13" fill="#e9f8ff">1</text><text class="t" x="764.60 764.60" y="348.12 361.32" font-size="13" fill="#e9f8ff">电控</text><text class="t" transform="translate(766.42 363.34) rotate(90)" font-size="13" fill="#e9f8ff">2</text><text class="t" x="783.10 783.10" y="348.27 361.47" font-size="13" fill="#e9f8ff">灯控</text><text class="t" x="802.10 802.10" y="348.43 361.63" font-size="13" fill="#e9f8ff">门禁</text></g><rect x="702" y="1561" width="84.5" height="448.5" rx="5" fill="url(#g61)"/><path d="M765 1562 L782 1562 Q785.5 1562 785.5 1566 L785.5 1780 L737 1830 Z" fill="url(#g62)"/><path d="M765 1562 L737 1830 L735 1830 L762 1562 Z" fill="#4a4a4d" opacity="0.5"/><rect x="702" y="1561" width="84.5" height="448.5" rx="5" fill="none" stroke="#1a1a1b" stroke-width="1.5"/><text x="723.3" y="1627.0" text-anchor="middle" style="font-family:'Liberation Sans',sans-serif;font-size:9px;font-style:italic" fill="#c9cdd2">1</text><text x="745.0" y="1627.0" text-anchor="middle" style="font-family:'Liberation Sans',sans-serif;font-size:9px;font-style:italic" fill="#c9cdd2">2</text><text x="767.2" y="1627.0" text-anchor="middle" style="font-family:'Liberation Sans',sans-serif;font-size:9px;font-style:italic" fill="#c9cdd2">3</text><text x="723.3" y="1648.0" text-anchor="middle" style="font-family:'Liberation Sans',sans-serif;font-size:9px;font-style:italic" fill="#c9cdd2">4</text><text x="745.0" y="1648.0" text-anchor="middle" style="font-family:'Liberation Sans',sans-serif;font-size:9px;font-style:italic" fill="#c9cdd2">5</text><text x="767.2" y="1648.0" text-anchor="middle" style="font-family:'Liberation Sans',sans-serif;font-size:9px;font-style:italic" fill="#c9cdd2">6</text><text x="723.3" y="1668.2" text-anchor="middle" style="font-family:'Liberation Sans',sans-serif;font-size:9px;font-style:italic" fill="#c9cdd2">7</text><text x="745.0" y="1668.2" text-anchor="middle" style="font-family:'Liberation Sans',sans-serif;font-size:9px;font-style:italic" fill="#c9cdd2">8</text><text x="767.2" y="1668.2" text-anchor="middle" style="font-family:'Liberation Sans',sans-serif;font-size:9px;font-style:italic" fill="#c9cdd2">9</text><text x="723.3" y="1688.6" text-anchor="middle" style="font-family:'Liberation Sans',sans-serif;font-size:9px;font-style:italic" fill="#c9cdd2">*</text><text x="745.0" y="1688.6" text-anchor="middle" style="font-family:'Liberation Sans',sans-serif;font-size:9px;font-style:italic" fill="#c9cdd2">0</text><text x="767.2" y="1688.6" text-anchor="middle" style="font-family:'Liberation Sans',sans-serif;font-size:9px;font-style:italic" fill="#c9cdd2">#</text><rect x="739.5" y="1653" width="11" height="5" rx="2.5" fill="none" stroke="#d5d8dc" stroke-width="0.9"/><circle cx="742.5" cy="1789" r="24" fill="#2a2a2c" stroke="#19191a" stroke-width="1.5"/><circle cx="742.5" cy="1789" r="22" fill="none" stroke="#3a3a3c" stroke-width="1"/><rect x="730" y="1776.5" width="178.3" height="31" rx="3.5" fill="url(#g63)" stroke="#19191a" stroke-width="1.2"/><rect x="728.3" y="1856.6" width="32" height="49.6" rx="15" fill="#2a2a2c" stroke="#141415" stroke-width="1.6"/><rect x="964.3" y="1854.3" width="499.2" height="91.0" fill="#dcdcdc"/><rect x="964.3" y="1854.3" width="499.2" height="12.6" fill="url(#g64)"/><rect x="964.3" y="1865.2" width="499.2" height="1.8" fill="#f6f6f6"/><rect x="964.3" y="1867.0" width="22.6" height="77.6" fill="url(#g65)"/><rect x="986.7" y="1868.5" width="358.3" height="74.8" fill="#1b1b1c"/><rect x="1015.0" y="1870.7" width="301.0" height="10.4" fill="url(#g66)"/><rect x="1015.0" y="1895.7" width="301.0" height="19.4" fill="url(#g66)"/><rect x="1015.0" y="1929.3" width="301.0" height="11.0" fill="url(#g66)"/><rect x="986.7" y="1881.5" width="358.0" height="3.0" fill="#2c2c2d"/><rect x="986.7" y="1915.5" width="358.0" height="3.0" fill="#2c2c2d"/><rect x="1345.0" y="1867.0" width="118.5" height="77.8" fill="url(#g67)"/><rect x="964.3" y="1943.5" width="499.2" height="1.8" fill="#bdbdbd"/><circle cx="1451.3" cy="1904.8" r="6.8" fill="#f1f1f1" stroke="#9a9a9a" stroke-width="1"/><path d="M1447.5 1906.5 L1455 1903 M1450 1901.5 L1452.6 1908" stroke="#555" stroke-width="1.6"/><circle cx="975.9" cy="1925.4" r="5.3" fill="#e9e9e9"/><circle cx="975.9" cy="1925.4" r="3.8" fill="#141414"/><circle cx="1021.5" cy="1875.6" r="3.2" fill="#141414"/><circle cx="1327.5" cy="1882.5" r="2.5" fill="#333"/><circle cx="1327.5" cy="1917" r="2.5" fill="#333"/><rect x="1615.2" y="1746.5" width="269.1" height="266.7" fill="url(#g68)"/><path d="M1615.2 1746.5 L1884.3 1746.5 L1877 1754 L1622.5 1754 Z" fill="#ffffff"/><path d="M1615.2 1746.5 L1622.5 1754 L1622.5 2006 L1615.2 2013.2 Z" fill="#ececec"/><path d="M1884.3 1746.5 L1877 1754 L1877 2006 L1884.3 2013.2 Z" fill="#f9f9f9"/><path d="M1615.2 2013.2 L1622.5 2006 L1877 2006 L1884.3 2013.2 Z" fill="#e6e6e6"/><rect x="1646.4" y="1806.3" width="207.6" height="155.3" rx="7" fill="url(#g69)" stroke="#6b5548" stroke-width="1"/><rect x="1647.4" y="1807.2" width="205.6" height="153.5" rx="6.5" fill="none" stroke="#e0b990" stroke-width="0.8" opacity="0.7"/><rect x="1662.8" y="1823.2" width="172.5" height="10.1" fill="url(#g70)"/><text x="1699" y="1868.6" style="font-family:'Liberation Sans',sans-serif;font-weight:bold;font-size:20.5px" fill="#101010" textLength="103.5" lengthAdjust="spacingAndGlyphs">DOOR</text><text x="1712.4" y="1944.2" style="font-family:'Liberation Sans',sans-serif;font-weight:bold;font-size:20.5px;font-size:18.8px" fill="#101010" textLength="77.3" lengthAdjust="spacingAndGlyphs">EXIT</text><ellipse cx="1730.3" cy="1900.7" rx="10" ry="13.2" fill="none" stroke="#101010" stroke-width="6"/><path d="M1741 1897 Q1760 1893.5 1786 1896.5 L1786 1903 L1783 1903 L1783 1911 Q1780 1913.5 1777 1911 L1777 1902.5 Q1760 1901 1741 1903.5 Z" fill="#101010"/><text x="1952" y="717" font-size="54" fill="#0b0608" textLength="100" lengthAdjust="spacingAndGlyphs" style="font-family:'Liberation Sans',sans-serif">30A</text><text x="1956" y="929" font-size="54" fill="#0b0608" style="font-family:'Liberation Sans',sans-serif">10A</text><text x="1958.7" y="1070.7" font-size="54" fill="#0b0608" textLength="100" lengthAdjust="spacingAndGlyphs" style="font-family:'Liberation Sans',sans-serif">30A</text></svg>
<div class="wl"></div>
</body></html>
